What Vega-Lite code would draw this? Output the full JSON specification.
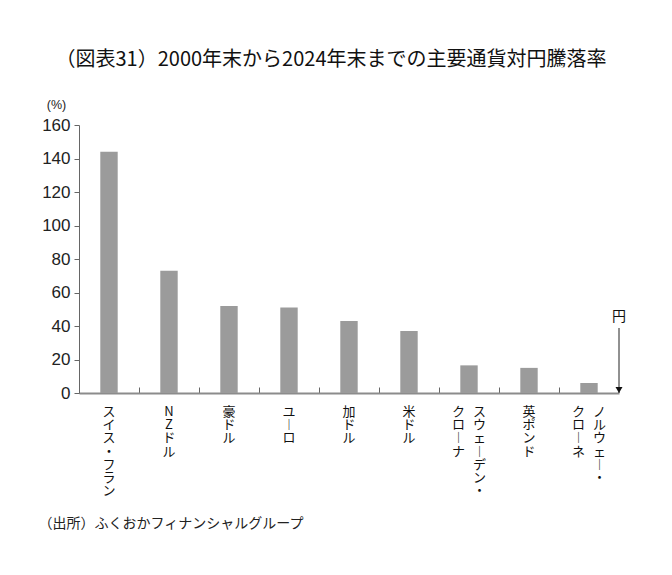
{
  "$schema": "https://vega.github.io/schema/vega-lite/v6.json",
  "description": "Major currencies vs. yen, change from end-2000 to end-2024.",
  "width": 540,
  "height": 268,
  "autosize": {"type": "none"},
  "padding": {"left": 79, "top": 125, "right": 53, "bottom": 182},
  "background": "white",
  "title": {
    "text": "（図表31）2000年末から2024年末までの主要通貨対円騰落率",
    "font": "Noto Sans CJK JP",
    "fontSize": 20,
    "fontWeight": "normal",
    "color": "#111",
    "anchor": "middle",
    "frame": "group",
    "dx": -18,
    "offset": 28
  },
  "datasets": {
    "rates": [
      {"currency": "スイス・フラン", "change": 144, "label": "ス\nイ\nス\n・\nフ\nラ\nン"},
      {"currency": "NZドル", "change": 73, "label": "N\nZ\nド\nル"},
      {"currency": "豪ドル", "change": 52, "label": "豪\nド\nル"},
      {"currency": "ユーロ", "change": 51, "label": "ユ\n︱\nロ"},
      {"currency": "加ドル", "change": 43, "label": "加\nド\nル"},
      {"currency": "米ドル", "change": 37, "label": "米\nド\nル"},
      {"currency": "スウェーデン・クローナ", "change": 16.5, "labelR": "ス\nウ\nェ\n︱\nデ\nン\n・", "labelL": "ク\nロ\n︱\nナ"},
      {"currency": "英ポンド", "change": 15, "label": "英\nポ\nン\nド"},
      {"currency": "ノルウェー・クローネ", "change": 6, "labelR": "ノ\nル\nウ\nェ\n︱\n・", "labelL": "ク\nロ\n︱\nネ"}
    ],
    "yen": [
      {"currency": "ノルウェー・クローネ", "top": 38.8, "base": 0, "mark": "円", "markAt": 45.5}
    ]
  },
  "data": {"name": "rates"},
  "encoding": {
    "x": {
      "field": "currency",
      "type": "nominal",
      "sort": null,
      "scale": {"paddingInner": 0, "paddingOuter": 0},
      "title": "（出所）ふくおかフィナンシャルグループ"
    }
  },
  "layer": [
    {
      "mark": {"type": "bar", "width": {"band": 0.29}, "color": "#9b9b9b"},
      "encoding": {
        "y": {
          "field": "change",
          "type": "quantitative",
          "scale": {"domain": [0, 160], "nice": false},
          "title": "(%)"
        }
      }
    },
    {
      "transform": [{"filter": "isValid(datum.label)"}],
      "mark": {"type": "text", "baseline": "top", "dy": 13, "lineBreak": "\n", "lineHeight": 13.2, "font": "Noto Sans CJK JP", "fontSize": 13, "color": "#111"},
      "encoding": {
        "y": {"datum": 0, "type": "quantitative", "title": "(%)"},
        "text": {"field": "label"}
      }
    },
    {
      "transform": [{"filter": "isValid(datum.labelR)"}],
      "mark": {"type": "text", "baseline": "top", "dy": 13, "dx": 10.5, "lineBreak": "\n", "lineHeight": 13.2, "font": "Noto Sans CJK JP", "fontSize": 13, "color": "#111"},
      "encoding": {
        "y": {"datum": 0, "type": "quantitative", "title": "(%)"},
        "text": {"field": "labelR"}
      }
    },
    {
      "transform": [{"filter": "isValid(datum.labelL)"}],
      "mark": {"type": "text", "baseline": "top", "dy": 13, "dx": -10.5, "lineBreak": "\n", "lineHeight": 13.2, "font": "Noto Sans CJK JP", "fontSize": 13, "color": "#111"},
      "encoding": {
        "y": {"datum": 0, "type": "quantitative", "title": "(%)"},
        "text": {"field": "labelL"}
      }
    },
    {
      "data": {"name": "yen"},
      "mark": {"type": "rule", "color": "#222", "strokeWidth": 1},
      "encoding": {
        "x": {"field": "currency", "type": "nominal", "sort": null, "bandPosition": 1, "title": "（出所）ふくおかフィナンシャルグループ"},
        "y": {"field": "top", "type": "quantitative", "title": "(%)"},
        "y2": {"field": "base"}
      }
    },
    {
      "data": {"name": "yen"},
      "mark": {"type": "point", "shape": "M-1,-1.7L1,-1.7L0,0Z", "filled": true, "size": 49, "color": "#111", "opacity": 1},
      "encoding": {
        "x": {"field": "currency", "type": "nominal", "sort": null, "bandPosition": 1, "title": "（出所）ふくおかフィナンシャルグループ"},
        "y": {"field": "base", "type": "quantitative", "title": "(%)"}
      }
    },
    {
      "data": {"name": "yen"},
      "mark": {"type": "text", "baseline": "middle", "align": "center", "font": "Noto Sans CJK JP", "fontSize": 14, "color": "#111"},
      "encoding": {
        "x": {"field": "currency", "type": "nominal", "sort": null, "bandPosition": 1, "title": "（出所）ふくおかフィナンシャルグループ"},
        "y": {"field": "markAt", "type": "quantitative", "title": "(%)"},
        "text": {"field": "mark"}
      }
    }
  ],
  "config": {
    "view": {"stroke": null},
    "axisX": {
      "labels": false,
      "bandPosition": 0,
      "tickSize": -6,
      "tickColor": "#666",
      "domainColor": "#8c8c8c",
      "domainWidth": 2,
      "titleX": -41,
      "titleY": 130,
      "titleAlign": "left",
      "titleBaseline": "middle",
      "titleFont": "Noto Sans CJK JP",
      "titleFontSize": 14,
      "titleFontWeight": "normal",
      "titleColor": "#222"
    },
    "axisY": {
      "values": [0, 20, 40, 60, 80, 100, 120, 140, 160],
      "grid": false,
      "labelOverlap": false,
      "tickSize": 5,
      "tickColor": "#666",
      "domainColor": "#666",
      "labelPadding": 4,
      "labelFont": "Liberation Sans",
      "labelFontSize": 17,
      "labelColor": "#222",
      "titleAngle": 0,
      "titleX": -23,
      "titleY": -21,
      "titleAlign": "center",
      "titleBaseline": "middle",
      "titleFont": "Liberation Sans",
      "titleFontSize": 12.5,
      "titleFontWeight": "normal",
      "titleColor": "#222"
    }
  }
}
